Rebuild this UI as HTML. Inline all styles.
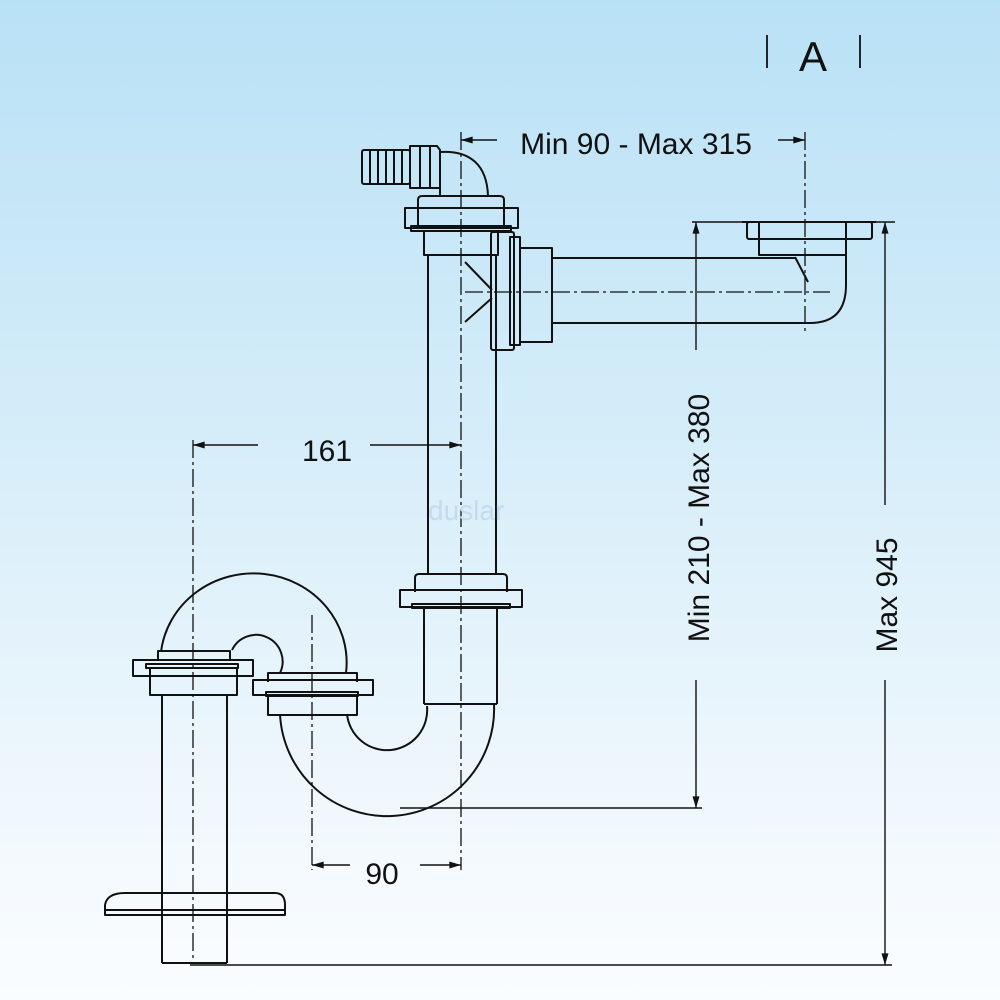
<!DOCTYPE html>
<html><head><style>
html,body{margin:0;padding:0;}
body{width:1000px;height:1000px;background:linear-gradient(180deg,#b9e1f6 0%,#d3ecf9 40%,#f3f9fd 85%,#fafdff 100%);}
svg{display:block}
text{font-family:"Liberation Sans",sans-serif;fill:#111}
</style></head><body>
<svg width="1000" height="1000" viewBox="0 0 1000 1000" xmlns="http://www.w3.org/2000/svg">
<defs>
<marker id="ar" viewBox="0 0 10 6" refX="10" refY="3" markerWidth="16" markerHeight="7" markerUnits="userSpaceOnUse" orient="auto"><path d="M0,0 L10,3 L0,6 Z" fill="#111"/></marker>
</defs>
<g stroke="#111" stroke-width="1.8" fill="none">
<line x1="767" y1="35" x2="767" y2="68"/><line x1="860" y1="35" x2="860" y2="68"/>
</g>
<text x="813" y="71" font-size="42" text-anchor="middle">A</text>

<g stroke="#111" stroke-width="2" fill="none" stroke-linejoin="round">
<rect x="362" y="150" width="48" height="34" rx="2"/>
<line x1="370" y1="150" x2="370" y2="184"/><line x1="378" y1="150" x2="378" y2="184"/><line x1="386" y1="150" x2="386" y2="184"/><line x1="394" y1="150" x2="394" y2="184"/><line x1="402" y1="150" x2="402" y2="184"/>
<path d="M410,146 L437,146 L440,150 L440,188 L410,188 Z"/>
<line x1="420" y1="146" x2="420" y2="188"/><line x1="430" y1="146" x2="430" y2="188"/>
<path d="M440,152 C470,150 487,165 488,196"/>
<path d="M440,182 L440,195"/>
<rect x="405" y="208" width="113" height="20"/>
<path d="M418,228 L418,200 Q418,196 422,196 L500,196 Q504,196 504,200 L504,228"/>
<rect x="411" y="226" width="100" height="5"/>
<rect x="424" y="231" width="74" height="24"/>
<line x1="428" y1="255" x2="428" y2="575"/><line x1="496" y1="255" x2="496" y2="575"/>
<path d="M465,262 L492,290 M465,322 L492,298"/>
<rect x="491" y="232" width="23" height="118" rx="2"/>
<rect x="510" y="237" width="10" height="108"/>
<rect x="520" y="248" width="32" height="94"/>
<line x1="552" y1="258" x2="795" y2="258"/>
<path d="M552,323 L810,323 Q846,323 846,285 L846,255"/>
<line x1="795" y1="257" x2="808" y2="282"/>
<rect x="747" y="222" width="125" height="17" rx="2"/>
<path d="M759,222 L759,255 L846,255 L846,222"/>
<line x1="742" y1="222" x2="876" y2="222"/>
<rect x="400" y="590" width="122" height="17"/>
<path d="M415,592 L415,578 Q415,574 419,574 L503,574 Q507,574 507,578 L507,592"/>
<rect x="412" y="604" width="98" height="4"/>
<line x1="424" y1="608" x2="424" y2="704"/><line x1="497" y1="608" x2="497" y2="704"/>
<path d="M424,704 L497,704"/>
<path d="M280,714 A107,107 0 0 0 494,704"/>
<path d="M347,714 A40,40 0 0 0 427,706"/>
<rect x="253" y="680" width="120" height="15"/>
<path d="M268,682 L268,673 L357,673 L357,682"/>
<rect x="266" y="692" width="92" height="4"/>
<rect x="268" y="696" width="89" height="19"/>
<path d="M161,652 A92,88 0 0 1 346,673"/>
<path d="M232,650 A24,24 0 0 1 280,673"/>
<path d="M158,660 L158,651 L230,651 L230,660"/>
<rect x="133" y="660" width="120" height="16"/>
<rect x="146" y="664" width="92" height="4"/>
<rect x="150" y="668" width="87" height="27"/>
<line x1="162" y1="695" x2="162" y2="963"/><line x1="227" y1="695" x2="227" y2="963"/>
<line x1="162" y1="963" x2="227" y2="963"/>
<path d="M105,915 L105,905 Q107,893 125,893 L275,893 Q285,893 285,905 L285,915 Z"/>
<line x1="105" y1="910" x2="285" y2="910"/>
</g>

<g stroke="#111" stroke-width="1.3" fill="none" stroke-dasharray="18,4,3,4">
<line x1="461" y1="132" x2="461" y2="870"/>
<line x1="805" y1="132" x2="805" y2="335"/>
<line x1="465" y1="292" x2="830" y2="292"/>
<line x1="193" y1="440" x2="193" y2="960"/>
<line x1="312" y1="615" x2="312" y2="870"/>
</g>

<g stroke="#111" stroke-width="1.4" fill="none">
<line x1="497" y1="140" x2="461" y2="140" marker-end="url(#ar)"/>
<line x1="778" y1="140" x2="805" y2="140" marker-end="url(#ar)"/>
<line x1="258" y1="445" x2="193" y2="445" marker-end="url(#ar)"/>
<line x1="370" y1="445" x2="461" y2="445" marker-end="url(#ar)"/>
<line x1="350" y1="865" x2="312" y2="865" marker-end="url(#ar)"/>
<line x1="420" y1="865" x2="461" y2="865" marker-end="url(#ar)"/>
<line x1="692" y1="222" x2="895" y2="222"/>
<line x1="696" y1="350" x2="696" y2="222" marker-end="url(#ar)"/>
<line x1="696" y1="680" x2="696" y2="808" marker-end="url(#ar)"/>
<line x1="400" y1="808" x2="702" y2="808"/>
<line x1="885" y1="505" x2="885" y2="222" marker-end="url(#ar)"/>
<line x1="885" y1="680" x2="885" y2="965" marker-end="url(#ar)"/>
<line x1="190" y1="965" x2="892" y2="965"/>
</g>

<text x="636" y="154" font-size="30" text-anchor="middle">Min 90 - Max 315</text>
<text x="327" y="461" font-size="30" text-anchor="middle">161</text>
<text x="382" y="884" font-size="30" text-anchor="middle">90</text>
<text transform="translate(709,518) rotate(-90)" font-size="30" text-anchor="middle">Min 210 - Max 380</text>
<text transform="translate(897,595) rotate(-90)" font-size="30" text-anchor="middle">Max 945</text>
<text x="428" y="520" font-size="28" style="fill:#c3dbee">duslar</text>
</svg>
</body></html>
